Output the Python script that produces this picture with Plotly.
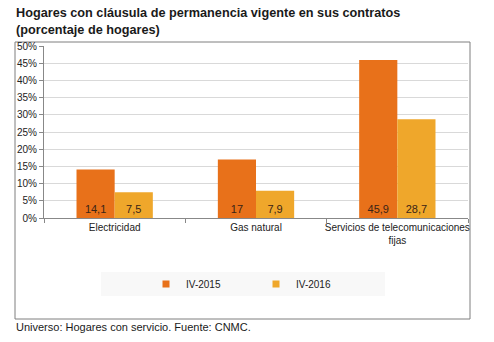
import plotly.graph_objects as go

categories = ["Electricidad", "Gas natural", "Servicios de telecomunicaciones<br>fijas"]
series_names = ["IV-2015", "IV-2016"]
values_2015 = [14.1, 17, 45.9]
values_2016 = [7.5, 7.9, 28.7]
labels_2015 = ["14,1", "17", "45,9"]
labels_2016 = ["7,5", "7,9", "28,7"]
y_ticks = [0, 5, 10, 15, 20, 25, 30, 35, 40, 45, 50]
y_tick_labels = [f"{v}%" for v in y_ticks]

W, H = 494, 342
L, R, T, B = 44, 26, 46, 124
pw, ph = W - L - R, H - T - B

def px(x):
    return (x - L) / pw

def py(y):
    return (H - B - y) / ph

colors = ["#E8711A", "#EFA72B"]
font = "Liberation Sans, Arial, sans-serif"

fig = go.Figure()
for name, vals, labs, c in [(series_names[0], values_2015, labels_2015, colors[0]),
                            (series_names[1], values_2016, labels_2016, colors[1])]:
    fig.add_trace(go.Bar(
        x=categories, y=vals, name=name, marker=dict(color=c, line=dict(width=0)),
        text=labs, textposition="inside", insidetextanchor="start",
        textfont=dict(color="#3a2416", size=11, family=font), textangle=0,
        showlegend=False,
    ))
    fig.add_trace(go.Scatter(
        x=[None], y=[None], mode="markers", name=name,
        marker=dict(symbol="square", size=7, color=c), showlegend=True,
    ))

fig.update_layout(
    width=W, height=H,
    margin=dict(l=L, r=R, t=T, b=B, autoexpand=False),
    paper_bgcolor="white", plot_bgcolor="white",
    barmode="group", bargap=0.46, bargroupgap=0,
    font=dict(family=font, size=10, color="#222"),
    showlegend=True,
    legend=dict(orientation="h", x=px(146), xanchor="left", y=py(284), yanchor="middle",
                bgcolor="rgba(0,0,0,0)", font=dict(size=10, family=font, color="#222"),
                entrywidth=65, itemwidth=30, traceorder="normal", tracegroupgap=0),
    xaxis=dict(showline=True, linecolor="#888", linewidth=1, ticks="outside",
               tickson="boundaries", ticklen=4, tickcolor="#888", showgrid=False,
               tickangle=0, automargin=False,
               tickfont=dict(size=10, family=font, color="#222")),
    yaxis=dict(range=[0, 50], tickvals=y_ticks, ticktext=y_tick_labels,
               showline=True, linecolor="#888", linewidth=1, ticks="outside", ticklen=4,
               tickcolor="#888", showgrid=True, gridcolor="#d9d9d9", gridwidth=1,
               zeroline=False, automargin=False,
               tickfont=dict(size=10, family=font, color="#222")),
    shapes=[
        dict(type="rect", xref="paper", yref="paper", x0=px(15), x1=px(470),
             y0=py(319), y1=py(42), line=dict(color="#7f7f7f", width=1), fillcolor="rgba(0,0,0,0)", layer="below"),
        dict(type="rect", xref="paper", yref="paper", x0=px(101), x1=px(385),
             y0=py(296), y1=py(272), line=dict(width=0), fillcolor="#f8f8f8", layer="below"),
    ],
    annotations=[
        dict(text="<b>Hogares con cláusula de permanencia vigente en sus contratos<br>(porcentaje de hogares)</b>",
             xref="paper", yref="paper", x=px(14), y=py(4), xanchor="left", yanchor="top",
             align="left", showarrow=False, font=dict(size=12.7, family=font, color="#1a1a1a")),
        dict(text="Universo: Hogares con servicio. Fuente: CNMC.",
             xref="paper", yref="paper", x=px(14), y=py(327), xanchor="left", yanchor="middle",
             align="left", showarrow=False, font=dict(size=11, family=font, color="#1a1a1a")),
    ],
)

fig.write_html("out.html")
